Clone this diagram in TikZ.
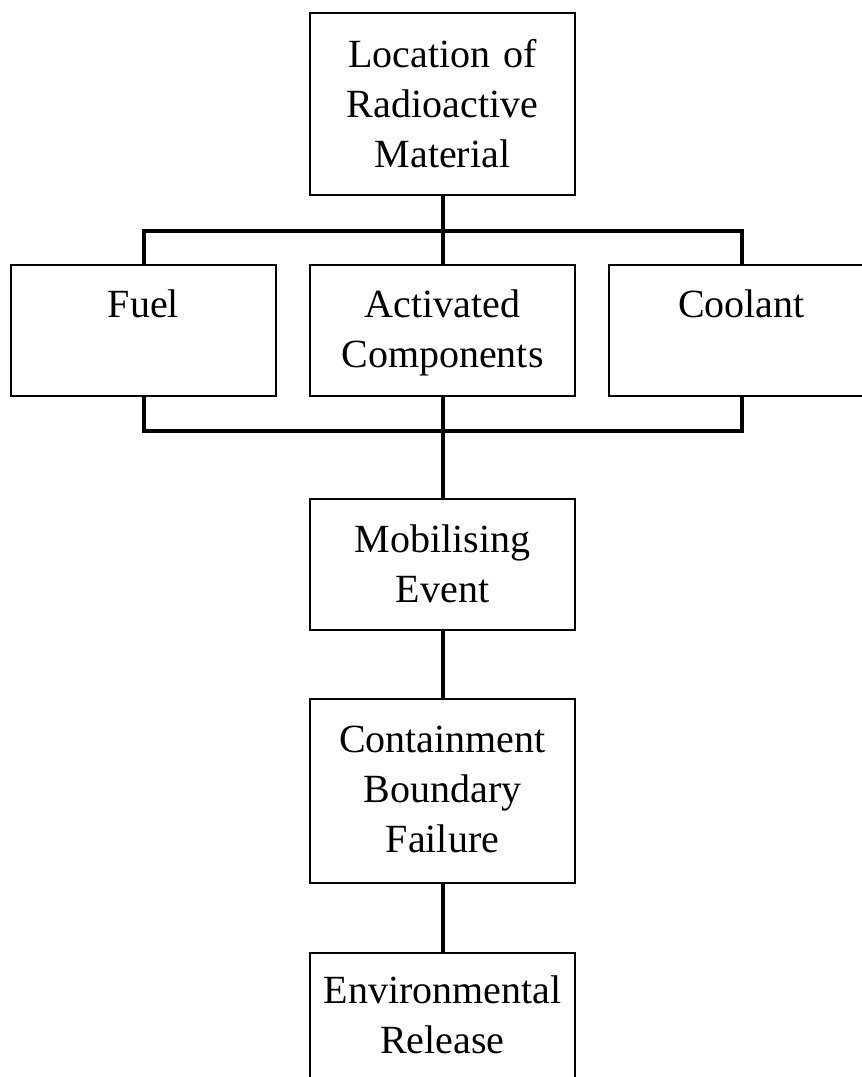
\documentclass[tikz,border=0pt]{standalone}
\usepackage{fontspec}
\setmainfont{Liberation Serif}
\begin{document}
\begin{tikzpicture}[x=1pt,y=-1pt,
  box/.style={draw, line width=2.7pt, inner xsep=0pt, inner ysep=0pt, outer sep=0pt,
    text width=265pt, align=center, anchor=north west,
    font=\fontsize{40}{50}\selectfont},
  link/.style={line width=4pt}]
\useasboundingbox (0,0) rectangle (862,1077);
\clip (0,0) rectangle (862,1077);
\fill[white] (0,0) rectangle (862,1077);
\node[box, text height=54pt, text depth=128pt] (loc) at (310,13) {Location of\\Radioactive\\Material};
\node[box, text height=52pt, text depth=79pt] (fuel) at (11,265) {Fuel};
\node[box, text height=52pt, text depth=79pt] (act) at (310,265) {Activated\\Components};
\node[box, text height=52pt, text depth=79pt] (cool) at (609,265) {Coolant};
\node[box, text height=53pt, text depth=78pt] (mob) at (310,499) {Mobilising\\Event};
\node[box, text height=53pt, text depth=131pt] (cont) at (310,699) {Containment\\Boundary\\Failure};
\node[box, text height=50pt, text depth=90pt] (env) at (310,953) {Environmental\\Release};
\draw[link] (loc.south) -- (act.north);
\draw[link] (fuel.north) -- ++(0,-34) -| (cool.north);
\draw[link] (fuel.south) -- ++(0,35) -| (cool.south);
\draw[link] (act.south) -- (mob.north);
\draw[link] (mob.south) -- (cont.north);
\draw[link] (cont.south) -- (env.north);
\end{tikzpicture}
\end{document}
